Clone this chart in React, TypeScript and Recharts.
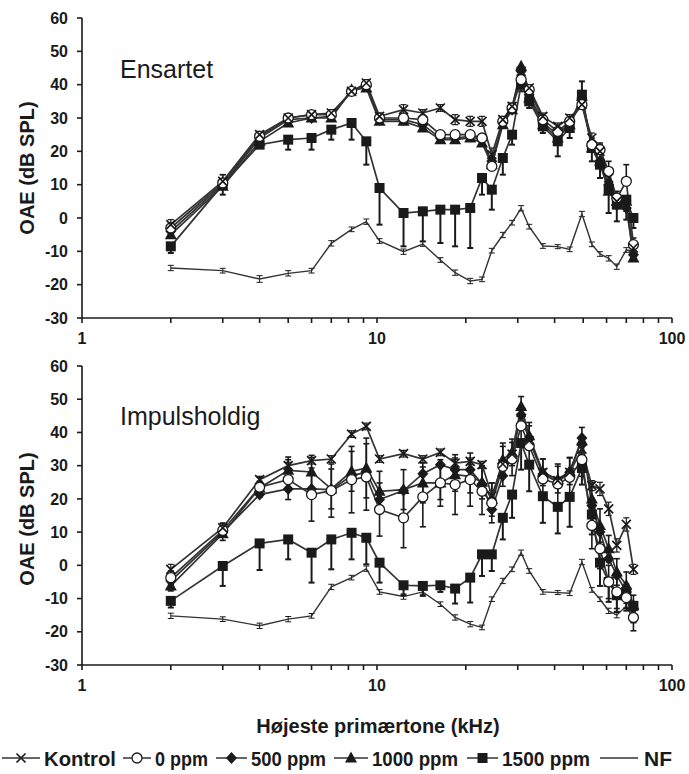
import { LineChart, Line, XAxis, YAxis, ErrorBar } from "recharts"

// frequencies (kHz) shared by both panels
const freqs = [2, 3, 4, 5, 6, 7, 8.2, 9.2, 10.2, 12.3, 14.3, 16.4, 18.4, 20.7, 22.7, 24.5, 26.7, 28.7, 30.8, 32.8, 36.5, 41, 45, 49.5, 53.5, 57, 61, 65, 70, 74]
const xTicks = [1, 2, 3, 4, 5, 6, 7, 8, 9, 10, 20, 30, 40, 50, 60, 70, 80, 90, 100]
const xLabels = [1, 10, 100]
const yTicks = [-30, -20, -10, 0, 10, 20, 30, 40, 50, 60]

// Ensartet (top panel)
const topKontrol = [-2, 11, 25, 30, 31, 31.5, 38, 40.5, 30.5, 32.5, 31.5, 33, 29.5, 29, 29, 19, 29.5, 33.5, 44, 39, 30.5, 27.5, 30, 34, 24, 20, 12, 5, 4, -9]
const top0 = [-3, 10.5, 24.5, 30, 31, 31, 38, 40, 30, 30, 29.5, 25, 25, 25, 24, 15.5, 29, 33, 41.5, 38.5, 29.5, 26, 29, 34, 22, 20.5, 14, 6, 11, -8]
const top500 = [-4, 10, 24, 29.5, 30, 30.5, 38, 39.5, 29.5, 29.5, 28, 24, 24, 24.5, 23.5, 17, 28.5, 32.5, 44, 37, 28.5, 25, 28.5, 36, 21.5, 17, 10, 4, 3, -11]
const top1000 = [-5, 9.5, 23, 28.5, 30, 30, 38.5, 39, 29, 29, 27, 23.5, 23.5, 24, 22.5, 16, 28, 32.5, 45.5, 36, 28, 24, 28, 36.5, 21, 17, 8, 5, 5, -12]
const top1500 = [-8.5, 10, 22, 23.5, 24, 26.5, 28.5, 23, 9, 1.5, 2, 2.5, 2.5, 3, 12, 8.5, 18, 25, 40, 35, 27.5, 23, 27, 37, 21, 16, 8.5, 4, 5.5, 0]
const topNF = [-15, -15.8, -18.3, -16.6, -15.8, -7.6, -3.4, -1.1, -6.9, -10.1, -7.8, -12.6, -16.4, -18.9, -18.4, -9.8, -5.1, -1.4, 2.9, -2.6, -8.4, -8.6, -9.4, 1.2, -7.9, -10.8, -12.1, -14.6, -9.6, -9.8]

const topErrKontrol = [1.5, 2, 1, 1, 1, 1, 1, 1, 1, 1.5, 1, 1, 1.5, 1.5, 1.5, 2, 1, 1, 1.5, 1, 1, 1, 1, 1, 1.5, 2, 2, 2, 2, 1.5]
const topErr0Up = [1.5, 2.5, 1, 1, 1, 1, 1, 1, 1, 1, 1, 1, 1, 1, 1, 1.5, 1, 1, 1, 1, 1, 1, 1, 1, 2, 2, 3, 2, 5, 2]
const topErr1500Down = [2, 3, 1, 3, 3.5, 3, 5, 7, 11, 10, 9, 10, 11, 12, 5, 6, 5, 3, 2, 2, 2, 4.5, 3, 1, 4, 4, 7, 5, 6, 3]
const topErr1500Up = [0, 0, 0, 0, 0, 0, 0, 0, 0, 0, 0, 0, 0, 0, 0, 0, 0, 0, 0, 0, 0, 0, 0, 4, 0, 0, 0, 0, 0, 0]
const topErrNF = [0.8, 0.7, 1, 0.8, 0.7, 0.8, 0.7, 0.8, 0.7, 0.8, 0.7, 0.7, 0.8, 0.8, 0.7, 0.7, 0.8, 0.7, 0.8, 0.7, 0.7, 0.6, 0.7, 0.8, 0.7, 0.7, 0.8, 0.8, 0.7, 0.8]

// Impulsholdig (bottom panel)
const botKontrol = [-1.2, 11.3, 25.8, 30, 31.5, 32, 39.5, 41.8, 32, 33.6, 32, 34, 30.8, 31.3, 30.3, 21, 30.5, 33.5, 46, 37.5, 28, 25.5, 28, 35, 24, 23, 17, 6, 12.3, -1.2]
const bot0 = [-3.7, 10.5, 23.5, 25.8, 21.3, 22.5, 25.8, 26.6, 16.8, 14.3, 20.6, 24.8, 24.3, 25.8, 22.3, 18.8, 29.8, 32, 42, 36, 26, 24.5, 26.5, 31.8, 12, 5, -5, -8, -9.7, -15.7]
const bot500 = [-4.7, 10, 21.3, 23, 23, 22.8, 27, 28, 19.8, 22.5, 27.6, 30.3, 28.8, 28.8, 24.5, 16.8, 27, 33, 45.3, 38, 27.5, 25, 28, 38.3, 18, 10, 2, -3, -8, -13]
const bot1000 = [-6.2, 9.5, 23.3, 28.6, 28.1, 23, 28.3, 29.3, 22.3, 22.8, 24.8, 24.8, 27.3, 26.8, 25, 19.8, 31.8, 34, 47.8, 39, 28, 25.8, 28.3, 37.5, 20, 12, 5, -2, -6, -12]
const bot1500 = [-10.7, -0.2, 6.6, 7.8, 3.8, 7.8, 9.8, 8.3, 0.8, -6, -6.2, -6, -7, -3.7, 3.3, 3.3, 14.3, 21.3, 36.8, 30.3, 20.8, 17.6, 20.6, 29.3, 15.3, 0.8, -5, -9, -8, -12.2]
const botNF = [-15.2, -16.2, -18.2, -16.2, -15.2, -6.5, -3.7, -1, -8, -9.4, -8, -11.7, -15.7, -17.7, -18.7, -10.2, -4.7, -1.2, 3.8, -1.7, -8, -8.2, -8.4, 1, -7.4, -10.2, -13.7, -15, -12.2, -16.2]

const botErrKontrol = [1.5, 1.5, 1, 1, 1, 1, 1, 1, 1, 1, 1, 1, 1, 1, 1, 1.5, 1, 1, 1.5, 1, 1, 1, 1, 1, 1.5, 2, 2, 2, 2, 1.5]
const botErr0 = [2, 2, 3, 6, 8, 8, 10, 10, 8, 9, 9, 7, 9, 8, 7, 6, 6, 5, 6, 6, 6, 6, 6, 5, 7, 6, 5, 5, 4, 4]
const botErr1000 = [1.5, 2, 2, 4, 5, 6, 6, 9, 6, 6, 6, 5, 5, 5, 5, 5, 5, 4, 3, 4, 4, 4, 4, 4, 5, 5, 4, 4, 4, 3]
const botErr1500Down = [2, 6, 8, 6, 9, 9, 8, 8, 6, 3, 3, 2, 4.5, 7.5, 6.5, 5, 6.5, 7, 8, 8, 8, 8, 9, 5, 6, 7, 6, 5, 5, 5]
const botErrNF = [0.8, 0.7, 0.8, 0.8, 0.7, 0.8, 0.7, 0.8, 0.7, 0.8, 0.7, 0.7, 0.8, 0.8, 0.7, 0.7, 0.8, 0.7, 0.8, 0.7, 0.7, 0.6, 0.7, 0.8, 0.7, 0.7, 0.8, 0.8, 0.7, 0.8]

const INK = "#1a1a1a"
const LINE = "#333"
const FONT = "'Liberation Sans', Arial, sans-serif"

const topRows = freqs.map((f, i) => ({
  f,
  kontrol: topKontrol[i],
  p0: top0[i],
  p500: top500[i],
  p1000: top1000[i],
  p1500: top1500[i],
  nf: topNF[i],
  eK: [topErrKontrol[i], topErrKontrol[i]],
  e0: [0, topErr0Up[i]],
  e1500: [topErr1500Down[i], topErr1500Up[i]],
  eNF: [topErrNF[i], topErrNF[i]],
}))

const botRows = freqs.map((f, i) => ({
  f,
  kontrol: botKontrol[i],
  p0: bot0[i],
  p500: bot500[i],
  p1000: bot1000[i],
  p1500: bot1500[i],
  nf: botNF[i],
  eK: [botErrKontrol[i], botErrKontrol[i]],
  e0: [botErr0[i], botErr0[i]],
  e1000: [botErr1000[i], botErr1000[i]],
  e1500: [botErr1500Down[i], 0],
  eNF: [botErrNF[i], botErrNF[i]],
}))

function marker(shape: string, cx: number, cy: number) {
  switch (shape) {
    case "cross":
      return (
        <path
          d={`M${cx - 4.5},${cy - 4.5}L${cx + 4.5},${cy + 4.5}M${cx - 4.5},${cy + 4.5}L${cx + 4.5},${cy - 4.5}`}
          stroke={INK}
          strokeWidth={1.7}
          fill="none"
        />
      )
    case "circle":
      return <circle cx={cx} cy={cy} r={5} fill="#fff" stroke={INK} strokeWidth={1.3} />
    case "diamond":
      return <polygon points={`${cx},${cy - 6} ${cx + 5.5},${cy} ${cx},${cy + 6} ${cx - 5.5},${cy}`} fill={INK} />
    case "triangle":
      return <polygon points={`${cx},${cy - 6.5} ${cx + 6},${cy + 4.5} ${cx - 6},${cy + 4.5}`} fill={INK} />
    case "square":
      return <rect x={cx - 5} y={cy - 5} width={10} height={10} fill={INK} />
    default:
      return null
  }
}

const dotFor = (shape: string) => (p: any) => {
  if (p.cx == null || p.cy == null) return <g key={`${shape}-${p.index}`} />
  return <g key={`${shape}-${p.index}`}>{marker(shape, p.cx, p.cy)}</g>
}

function Panel({ rows, bottom }: { rows: any[]; bottom: boolean }) {
  return (
    <LineChart width={689} height={bottom ? 349 : 350} data={rows} margin={{ top: 18, right: 17, bottom: 0, left: 0 }}>
      <XAxis
        xAxisId="b"
        dataKey="f"
        type="number"
        scale="log"
        domain={[1, 100]}
        allowDataOverflow
        ticks={xTicks}
        interval={0}
        tickFormatter={(v: number) => (xLabels.includes(v) ? String(v) : "")}
        height={32}
        tickSize={5}
        tickMargin={10}
        stroke={INK}
        strokeWidth={1.6}
        tick={{ fill: INK, fontSize: 16, fontWeight: "bold", fontFamily: FONT }}
      />
      <XAxis
        xAxisId="t"
        dataKey="f"
        type="number"
        scale="log"
        domain={[1, 100]}
        allowDataOverflow
        orientation="top"
        mirror
        ticks={xTicks}
        interval={0}
        tickFormatter={() => ""}
        height={0}
        tickSize={5}
        stroke={INK}
        strokeWidth={1.6}
      />
      <YAxis
        yAxisId="l"
        type="number"
        domain={[-30, 60]}
        ticks={yTicks}
        interval={0}
        width={82}
        tickSize={5}
        tickMargin={9}
        stroke={INK}
        strokeWidth={1.6}
        tick={{ fill: INK, fontSize: 16, fontWeight: "bold", fontFamily: FONT }}
      />
      <YAxis
        yAxisId="r"
        type="number"
        orientation="right"
        mirror
        domain={[-30, 60]}
        ticks={yTicks}
        interval={0}
        width={0}
        tickSize={5}
        tickFormatter={() => ""}
        stroke={INK}
        strokeWidth={1.6}
      />

      <Line xAxisId="b" yAxisId="l" dataKey="nf" name="NF" stroke={LINE} strokeWidth={1.4} dot={false} isAnimationActive={false}>
        <ErrorBar dataKey="eNF" direction="y" width={3} stroke={INK} strokeWidth={1} />
      </Line>
      <Line xAxisId="b" yAxisId="l" dataKey="p1500" name="1500 ppm" stroke={LINE} strokeWidth={1.7} dot={dotFor("square")} isAnimationActive={false}>
        <ErrorBar dataKey="e1500" direction="y" width={3} stroke={INK} strokeWidth={2} />
      </Line>
      <Line xAxisId="b" yAxisId="l" dataKey="p1000" name="1000 ppm" stroke={LINE} strokeWidth={1.7} dot={dotFor("triangle")} isAnimationActive={false}>
        {bottom && <ErrorBar dataKey="e1000" direction="y" width={3} stroke={INK} strokeWidth={1.6} />}
      </Line>
      <Line xAxisId="b" yAxisId="l" dataKey="p500" name="500 ppm" stroke={LINE} strokeWidth={1.7} dot={dotFor("diamond")} isAnimationActive={false} />
      <Line xAxisId="b" yAxisId="l" dataKey="p0" name="0 ppm" stroke={LINE} strokeWidth={1.7} dot={dotFor("circle")} isAnimationActive={false}>
        <ErrorBar dataKey="e0" direction="y" width={3} stroke={INK} strokeWidth={1.6} />
      </Line>
      <Line xAxisId="b" yAxisId="l" dataKey="kontrol" name="Kontrol" stroke={LINE} strokeWidth={1.7} dot={dotFor("cross")} isAnimationActive={false}>
        <ErrorBar dataKey="eK" direction="y" width={3} stroke={INK} strokeWidth={1.2} />
      </Line>
    </LineChart>
  )
}

const legendItems = [
  { name: "Kontrol", shape: "cross", x0: 2, x1: 40, tx: 44, tw: 72 },
  { name: "0 ppm", shape: "circle", x0: 123, x1: 151, tx: 155, tw: 53 },
  { name: "500 ppm", shape: "diamond", x0: 216, x1: 247, tx: 251, tw: 75 },
  { name: "1000 ppm", shape: "triangle", x0: 334, x1: 368, tx: 372, tw: 86 },
  { name: "1500 ppm", shape: "square", x0: 467, x1: 498, tx: 502, tw: 88 },
  { name: "NF", shape: "none", x0: 600, x1: 638, tx: 644, tw: 28 },
]

export default function App() {
  return (
    <div style={{ position: "absolute", left: 0, top: 0, width: 689, height: 774, background: "#fff", fontFamily: FONT }}>
      <div style={{ position: "absolute", left: 0, top: 0 }}>
        <Panel rows={topRows} bottom={false} />
      </div>
      <div style={{ position: "absolute", left: 0, top: 348 }}>
        <Panel rows={botRows} bottom />
      </div>
      <svg width={689} height={774} style={{ position: "absolute", left: 0, top: 0, pointerEvents: "none" }}>
        <text x={27} y={168} transform="rotate(-90 27 168)" textAnchor="middle" dominantBaseline="central" fontSize={20} fontWeight="bold" fill={INK} fontFamily={FONT}>
          OAE (dB SPL)
        </text>
        <text x={27} y={519} transform="rotate(-90 27 519)" textAnchor="middle" dominantBaseline="central" fontSize={20} fontWeight="bold" fill={INK} fontFamily={FONT}>
          OAE (dB SPL)
        </text>
        <text x={120} y={78} fontSize={25} fill={INK} fontFamily={FONT}>
          Ensartet
        </text>
        <text x={120} y={425} fontSize={25} fill={INK} fontFamily={FONT}>
          Impulsholdig
        </text>
        <text x={378} y={733} textAnchor="middle" fontSize={20} fontWeight="bold" fill={INK} fontFamily={FONT}>
          Højeste primærtone (kHz)
        </text>
        {legendItems.map((it) => (
          <g key={it.name}>
            <line x1={it.x0} x2={it.x1} y1={758} y2={758} stroke={LINE} strokeWidth={1.5} />
            {marker(it.shape, (it.x0 + it.x1) / 2, 758)}
            <text x={it.tx} y={766} fontSize={20} fontWeight="bold" fill={INK} fontFamily={FONT} textLength={it.tw} lengthAdjust="spacingAndGlyphs">
              {it.name}
            </text>
          </g>
        ))}
      </svg>
    </div>
  )
}
